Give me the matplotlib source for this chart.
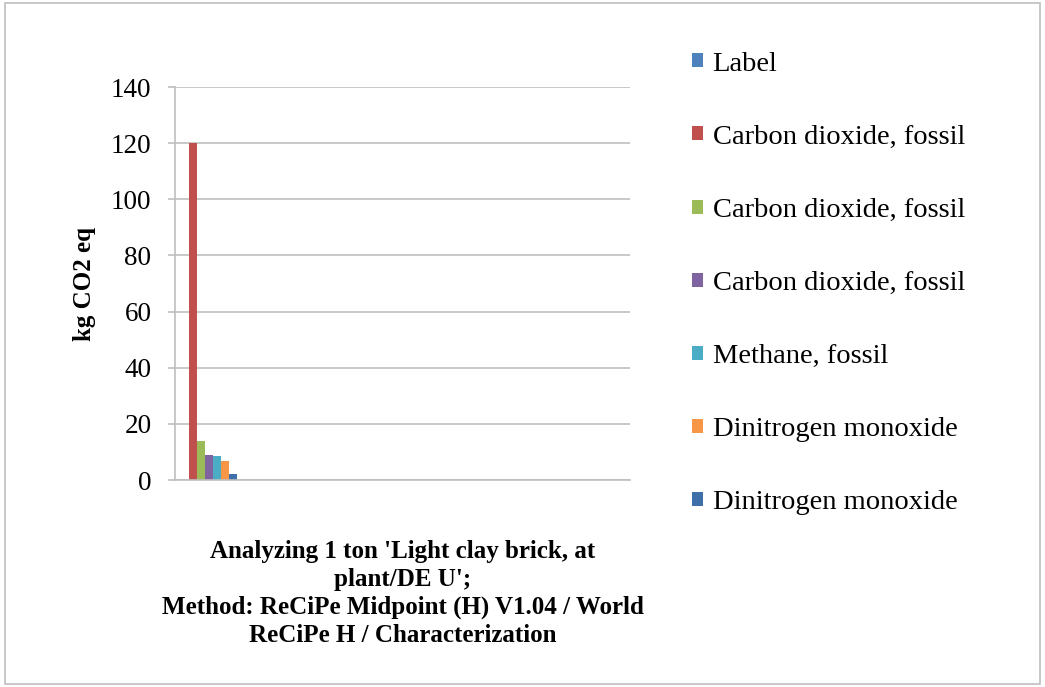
import matplotlib.pyplot as plt
from matplotlib.patches import Rectangle

# Characterization results, kg CO2 eq per substance
series_names = ["Label", "Carbon dioxide, fossil", "Carbon dioxide, fossil",
                "Carbon dioxide, fossil", "Methane, fossil",
                "Dinitrogen monoxide", "Dinitrogen monoxide"]
series_values = [0, 120, 13.8, 9.0, 8.4, 6.7, 2.1]
series_colors = ["#4F81BD", "#C0504D", "#9BBB59", "#8064A2", "#4BACC6",
                 "#F79646", "#3F6FA8"]
y_ticks = [0, 20, 40, 60, 80, 100, 120, 140]
category_title = ("Analyzing 1 ton 'Light clay brick, at\nplant/DE U';\n"
                  "Method: ReCiPe Midpoint (H) V1.04 / World\n"
                  "ReCiPe H / Characterization")

plt.rcParams['font.family'] = ['Liberation Serif', 'DejaVu Serif']

fig = plt.figure(figsize=(10.45, 6.87), dpi=100)
fig.patch.set_facecolor('white')
fig.add_artist(Rectangle((0.005, 0.004), 0.99, 0.992, transform=fig.transFigure,
                         fill=False, edgecolor='#BFBFBF', linewidth=1.2))

ax = fig.add_axes([0.1675, 0.3013, 0.4354, 0.572])
handles = []
for i, (name, val, col) in enumerate(zip(series_names, series_values, series_colors)):
    h = ax.bar(i, val, width=1.0, color=col, label=name)
    handles.append(h)

ax.set_xlim(-1.25, 55.6)
ax.set_ylim(0, 140)
ax.set_yticks(y_ticks)
ax.set_xticks([])
ax.yaxis.grid(True, color='#BFBFBF', linewidth=1.2)
ax.set_axisbelow(True)
for side in ['top', 'right']:
    ax.spines[side].set_visible(False)
for side in ['left', 'bottom']:
    ax.spines[side].set_color('#BFBFBF')
    ax.spines[side].set_linewidth(1.2)
ax.tick_params(axis='y', length=5, width=1.2, color='#BFBFBF', labelsize=19.5,
               pad=12)

ax.set_ylabel('kg CO2 eq', fontsize=18, fontweight='bold', labelpad=11)
ax.set_xlabel(category_title, fontsize=18, fontweight='bold',
              linespacing=1.28, labelpad=43)

fig.legend(handles=handles, labels=series_names, loc='upper left',
           bbox_to_anchor=(0.662, 0.925), frameon=False, fontsize=20.5,
           borderpad=0, borderaxespad=0,
           handlelength=0.38, handleheight=0.38, handletextpad=0.35,
           labelspacing=1.69)

plt.savefig('out.png', dpi=100, facecolor='white')
